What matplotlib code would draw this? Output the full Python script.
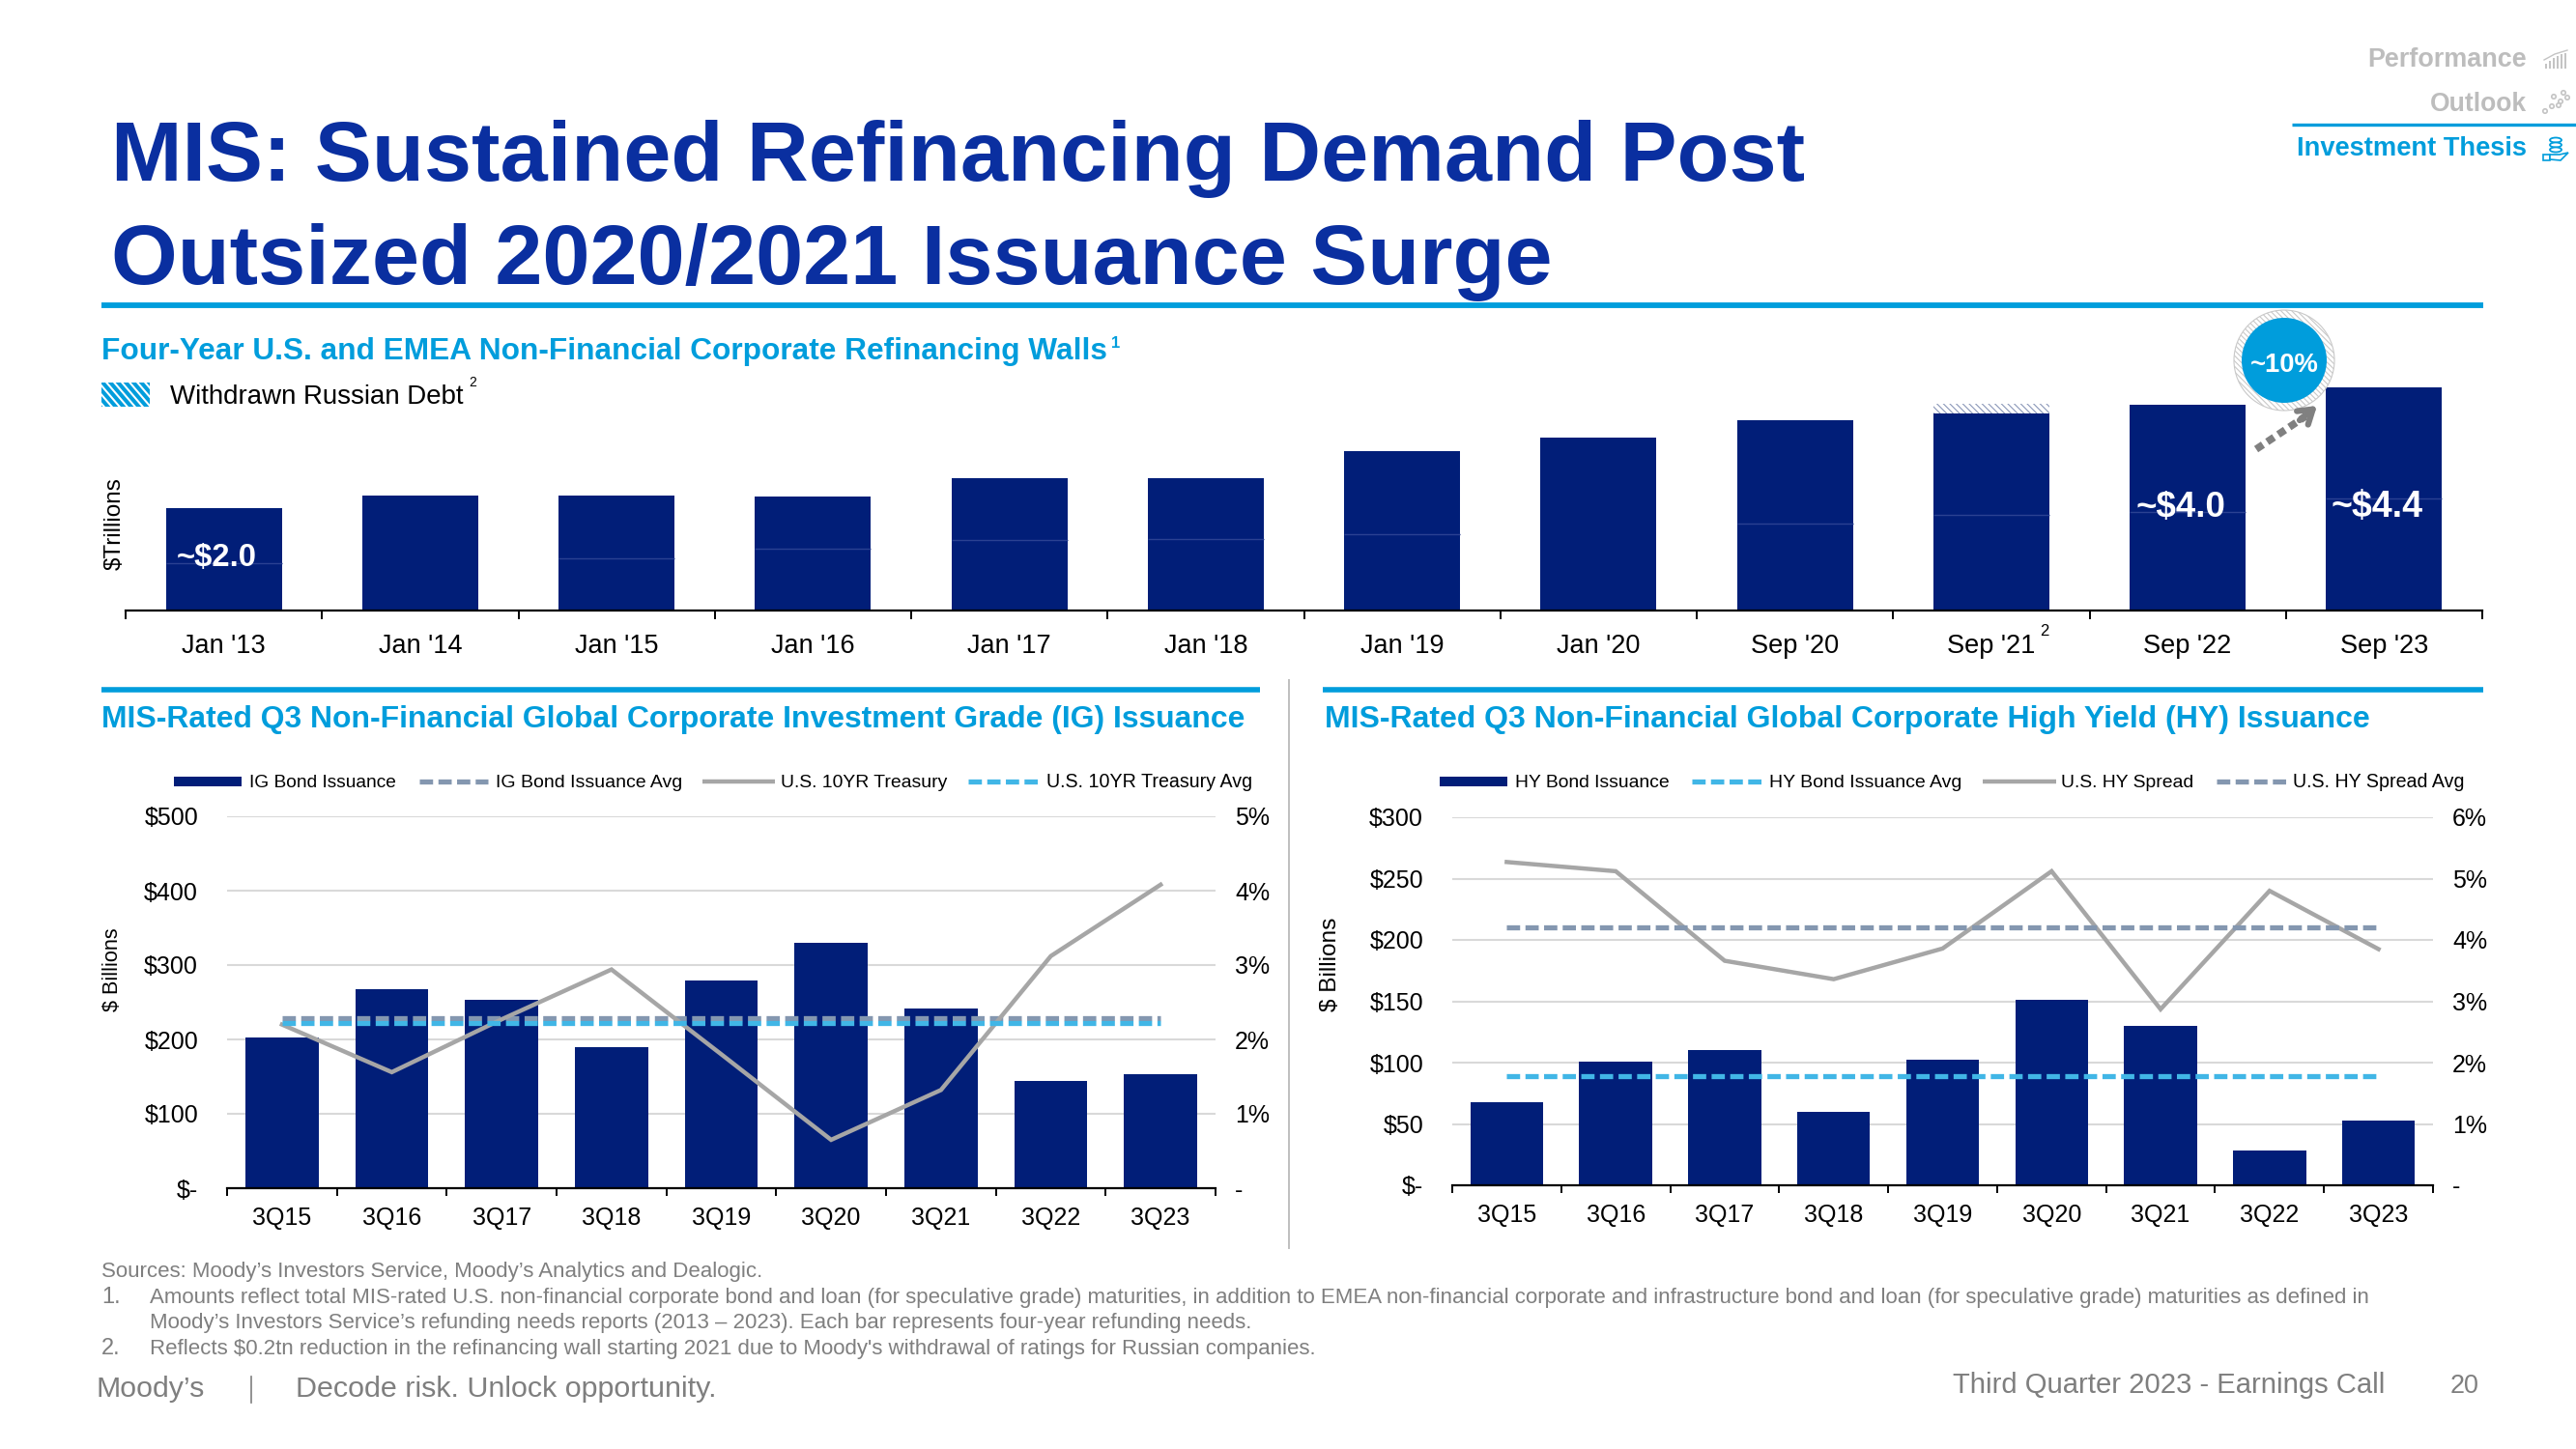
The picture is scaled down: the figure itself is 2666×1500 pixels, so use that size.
import numpy as np
import matplotlib
matplotlib.use('Agg')
import matplotlib.pyplot as plt
from matplotlib.patches import Circle, Rectangle, Ellipse, Polygon

plt.rcParams['font.family'] = ['Liberation Sans', 'DejaVu Sans']
plt.rcParams['hatch.linewidth'] = 0.8

W, H = 2666, 1500
NAVY = '#011E78'
TITLE = '#0A2FA0'
BLUE = '#009DDC'
SKY = '#41B6E6'
STEEL = '#8497B0'
LINE = '#A6A6A6'
GRID = '#D9D9D9'
FOOT = '#7F7F7F'

# refinancing walls, $ trillions
wall_labels = ["Jan '13", "Jan '14", "Jan '15", "Jan '16", "Jan '17", "Jan '18",
               "Jan '19", "Jan '20", "Sep '20", "Sep '21", "Sep '22", "Sep '23"]
wall_total = [2.0, 2.23, 2.23, 2.22, 2.58, 2.58, 3.11, 3.37, 3.71, 3.83, 4.0, 4.34]
wall_seam = [0.92, np.nan, 1.01, 1.2, 1.37, 1.39, 1.48, np.nan, 1.69, 1.86, 1.92, 2.18]
wall_russian = [0, 0, 0, 0, 0, 0, 0, 0, 0, 0.19, 0, 0]

quarters = ['3Q15', '3Q16', '3Q17', '3Q18', '3Q19', '3Q20', '3Q21', '3Q22', '3Q23']

# investment grade
ig_issuance = [202, 267, 253, 189, 279, 330, 241, 144, 153]
ig_avg = 228
treasury = [2.2, 1.56, 2.27, 2.94, 1.8, 0.65, 1.32, 3.12, 4.08]
treasury_avg = 2.22

# high yield
hy_issuance = [68, 101, 110, 60, 102, 151, 130, 28, 52.5]
hy_avg = 89
hy_spread = [5.27, 5.12, 3.66, 3.36, 3.86, 5.12, 2.87, 4.8, 3.85]
hy_spread_avg = 4.21

ig_ticks = [0, 100, 200, 300, 400, 500]
ig_ticklabels = ['$-', '$100', '$200', '$300', '$400', '$500']
ig_rticks = [0, 1, 2, 3, 4, 5]
ig_rticklabels = ['-', '1%', '2%', '3%', '4%', '5%']
hy_ticks = [0, 50, 100, 150, 200, 250, 300]
hy_ticklabels = ['$-', '$50', '$100', '$150', '$200', '$250', '$300']
hy_rticks = [0, 1, 2, 3, 4, 5, 6]
hy_rticklabels = ['-', '1%', '2%', '3%', '4%', '5%', '6%']

DASH = (0, (2.6, 1.05))
DASH_LW = 3.8

fig = plt.figure(figsize=(W / 100, H / 100), dpi=100, facecolor='white')
renderer = fig.canvas.get_renderer()


def add_axes_px(left, right, top, bottom):
    return fig.add_axes([left / W, 1 - bottom / H, (right - left) / W, (bottom - top) / H])


# overlay in pixel coordinates for the slide furniture
bg = fig.add_axes([0, 0, 1, 1], zorder=10)
bg.set_xlim(0, W)
bg.set_ylim(H, 0)
bg.axis('off')
bg.patch.set_alpha(0)


def txt(x, y, s, width=None, size=18, color='black', ha='left', **kw):
    t = bg.text(x, y, s, fontsize=size, color=color, ha=ha, va='baseline', **kw)
    if width is not None:
        # no letter spacing in matplotlib, so scale the size to the slide's text width
        w = t.get_window_extent(renderer).width
        t.set_fontsize(size * width / w)
    return t


def rule(x0, x1, y, color=BLUE, lw=4):
    bg.plot([x0, x1], [y, y], color=color, lw=lw, solid_capstyle='butt')


# header
txt(115, 187, 'MIS: Sustained Refinancing Demand Post', width=1755, size=60, color=TITLE, fontweight='bold')
txt(115, 294, 'Outsized 2020/2021 Issuance Surge', width=1492, size=60, color=TITLE, fontweight='bold')
rule(105, 2570, 316, lw=4.2)

# navigation
txt(2615, 69, 'Performance', width=165, size=20, color='#BDBDBD', ha='right', fontweight='bold')
txt(2615, 115, 'Outlook', width=100, size=20, color='#BDBDBD', ha='right', fontweight='bold')
txt(2615, 161, 'Investment Thesis', width=237, size=20, color=BLUE, ha='right', fontweight='bold')
rule(2372, 2666, 129, lw=2.4)
for dx, top in zip(range(2634, 2656, 4), [66, 63, 60, 58, 56, 55]):
    bg.add_patch(Rectangle((dx, top), 2, 71 - top, color='#C4C4C4', lw=0))
bg.plot([2633, 2644, 2657], [62, 56, 52], color='#C4C4C4', lw=1)
for dx, dy in [(2643, 100), (2653, 96), (2657, 101), (2650, 105), (2641, 110), (2634, 115), (2648, 109)]:
    bg.add_patch(Circle((dx, dy), 2.2, fc='white', ec='#C4C4C4', lw=1.2))
for dy in [145, 150, 155]:
    bg.add_patch(Ellipse((2645, dy), 12, 5, fc='white', ec=BLUE, lw=1.3))
bg.add_patch(Rectangle((2632, 160), 7, 6, fc='white', ec=BLUE, lw=1.2))
bg.add_patch(Polygon([(2639, 160), (2649, 160), (2658, 158), (2650, 166), (2639, 165)], fc='white', ec=BLUE, lw=1.2))

# top chart heading and legend
txt(105, 372, 'Four-Year U.S. and EMEA Non-Financial Corporate Refinancing Walls', width=1040, size=20,
    color=BLUE, fontweight='bold')
txt(1150, 360, '1', size=12, color=BLUE, fontweight='bold')
swatch = Rectangle((105, 396), 50, 25, fc='white', lw=0)
bg.add_patch(swatch)
for sx in range(70, 170, 8):
    stripe, = bg.plot([sx, sx + 30], [391, 426], color=BLUE, lw=2.9, solid_capstyle='butt')
    stripe.set_clip_path(swatch)
txt(176, 418, 'Withdrawn Russian Debt', width=305, size=19)
txt(485, 400, '2', size=10)
txt(125, 542, '$Trillions', size=17.5, rotation=90, rotation_mode='anchor', ha='center')

# top chart
ax = add_axes_px(130, 2569, 366, 632)
x = np.arange(len(wall_labels))
bw = 0.59
ax.bar(x, wall_total, bw, color=NAVY, lw=0, zorder=2)
ax.bar(x, wall_russian, bw, bottom=wall_total, facecolor='white', edgecolor='#8A97B8', lw=0,
       hatch='\\\\\\\\\\', zorder=2)
ax.hlines(wall_seam, x - bw / 2, x + bw / 2, color='#2A4192', lw=1, zorder=3)
ax.set_xlim(-0.5, len(x) - 0.5)
ax.set_ylim(0, 5)
ax.set_yticks([])
for s in ['top', 'left', 'right']:
    ax.spines[s].set_visible(False)
ax.spines['bottom'].set_linewidth(1.6)
ax.set_xticks(x, wall_labels, fontsize=19.5)
ax.tick_params(axis='x', which='major', length=0, pad=17)
ax.set_xticks(np.arange(len(x) + 1) - 0.5, minor=True)
ax.tick_params(axis='x', which='minor', length=6.5, width=1.4)
ax.patch.set_alpha(0)

txt(2111, 658, '2', size=12, ha='left')
txt(183, 586, '~$2.0', width=83, size=26, color='white', fontweight='bold')
txt(2210, 535, '~$4.0', width=93, size=28, color='white', fontweight='bold')
txt(2413, 535, '~$4.4', width=95, size=28, color='white', fontweight='bold')

# growth callout
bg.add_patch(Circle((2364, 373), 52, fc='white', ec='#C9C9C9', lw=0.8, hatch='\\\\\\\\\\\\'))
bg.add_patch(Circle((2364, 373), 44, fc=BLUE, ec='none'))
txt(2364, 385, '~10%', width=71, size=20, color='white', ha='center', fontweight='bold')
bg.plot([2335, 2386], [465, 431], color='#808080', lw=5.5, linestyle=(0, (1.1, 0.7)))
bg.annotate('', xy=(2398, 420), xytext=(2380, 435),
            arrowprops=dict(arrowstyle='->,head_length=1.0,head_width=0.65', color='#808080', lw=4.5,
                            shrinkA=0, shrinkB=0))

# section rules
rule(105, 1304, 714, lw=4)
rule(1369, 2570, 714, lw=4)
bg.plot([1334, 1334], [704, 1292], color='#BFBFBF', lw=1.4)
txt(105, 753, 'MIS-Rated Q3 Non-Financial Global Corporate Investment Grade (IG) Issuance', width=1185, size=20,
    color=BLUE, fontweight='bold')
txt(1371, 753, 'MIS-Rated Q3 Non-Financial Global Corporate High Yield (HY) Issuance', width=1081, size=20,
    color=BLUE, fontweight='bold')


def issuance_panel(left, right, top, bottom, values, avg, ymax, yticks, ylabels,
                   rate, rate_avg, rmax, rticks, rlabels, avg_color, rate_avg_color):
    a = add_axes_px(left, right, top, bottom)
    pos = np.arange(len(quarters))
    a.bar(pos, values, 0.668, color=NAVY, lw=0, zorder=2)
    a.plot(pos[[0, -1]], [avg, avg], color=avg_color, lw=DASH_LW, linestyle=DASH, zorder=3)
    a.set_xlim(-0.5, len(pos) - 0.5)
    a.set_ylim(0, ymax)
    a.set_yticks(yticks, ylabels, fontsize=18)
    a.grid(axis='y', color=GRID, lw=1.5, zorder=0)
    a.set_axisbelow(True)
    for s in ['top', 'left', 'right']:
        a.spines[s].set_visible(False)
    a.spines['bottom'].set_linewidth(1.6)
    a.tick_params(axis='y', length=0, pad=21.5)
    a.set_xticks(pos, quarters, fontsize=18)
    a.tick_params(axis='x', which='major', length=0, pad=14)
    a.set_xticks(np.arange(len(pos) + 1) - 0.5, minor=True)
    a.tick_params(axis='x', which='minor', length=5.5, width=1.4)
    a.patch.set_alpha(0)

    r = a.twinx()
    r.plot(pos, rate, color=LINE, lw=3.2, zorder=3, solid_joinstyle='miter')
    r.plot(pos[[0, -1]], [rate_avg, rate_avg], color=rate_avg_color, lw=DASH_LW, linestyle=DASH, zorder=4)
    r.set_ylim(0, rmax)
    r.set_yticks(rticks, rlabels, fontsize=18)
    r.tick_params(axis='y', length=0, pad=14.5)
    for s in r.spines.values():
        s.set_visible(False)
    r.patch.set_alpha(0)


issuance_panel(235, 1258, 845, 1230, ig_issuance, ig_avg, 500, ig_ticks, ig_ticklabels,
               treasury, treasury_avg, 5, ig_rticks, ig_rticklabels, STEEL, SKY)
issuance_panel(1503, 2518, 846, 1227, hy_issuance, hy_avg, 300, hy_ticks, hy_ticklabels,
               hy_spread, hy_spread_avg, 6, hy_rticks, hy_rticklabels, SKY, STEEL)

txt(122, 1004, '$ Billions', size=15.6, rotation=90, rotation_mode='anchor', ha='center')
txt(1383, 998, '$ Billions', size=17.6, rotation=90, rotation_mode='anchor', ha='center')


def legend_row(y, items):
    for kind, x0, x1, color, label, tx, tw in items:
        if kind == 'bar':
            bg.add_patch(Rectangle((x0, y - 5), x1 - x0, 10, color=color, lw=0))
        elif kind == 'line':
            bg.plot([x0, x1], [y, y], color=color, lw=3.2, solid_capstyle='butt')
        else:
            bg.plot([x0, x1], [y, y], color=color, lw=DASH_LW, linestyle=DASH)
        txt(tx, y + 6, label, width=tw, size=13)


legend_row(809, [
    ('bar', 180, 250, NAVY, 'IG Bond Issuance', 258, 152),
    ('dash', 434, 505, STEEL, 'IG Bond Issuance Avg', 513, 192),
    ('line', 727, 802, LINE, 'U.S. 10YR Treasury', 808, 172),
    ('dash', 1002, 1075, SKY, 'U.S. 10YR Treasury Avg', 1083, 211),
])
legend_row(809, [
    ('bar', 1490, 1560, NAVY, 'HY Bond Issuance', 1568, 159),
    ('dash', 1751, 1823, SKY, 'HY Bond Issuance Avg', 1831, 198),
    ('line', 2052, 2128, LINE, 'U.S. HY Spread', 2133, 137),
    ('dash', 2294, 2367, STEEL, 'U.S. HY Spread Avg', 2373, 176),
])

# footnotes
txt(105, 1322, "Sources: Moody\u2019s Investors Service, Moody\u2019s Analytics and Dealogic.", width=688, size=15, color=FOOT)
txt(105, 1349, '1.', size=17, color=FOOT)
txt(155, 1349, 'Amounts reflect total MIS-rated U.S. non-financial corporate bond and loan (for speculative grade) '
    'maturities, in addition to EMEA non-financial corporate and infrastructure bond and loan (for speculative grade) '
    'maturities as defined in', width=2305, size=15, color=FOOT)
txt(155, 1375, "Moody\u2019s Investors Service\u2019s refunding needs reports (2013 \u2013 2023). Each bar represents "
    "four-year refunding needs.", width=1145, size=15, color=FOOT)
txt(105, 1402, '2.', size=17, color=FOOT)
txt(155, 1402, "Reflects $0.2tn reduction in the refinancing wall starting 2021 due to Moody's withdrawal of ratings "
    "for Russian companies.", width=1208, size=15, color=FOOT)

txt(100, 1446, 'Moody\u2019s', width=112, size=23, color=FOOT)
bg.plot([260, 260], [1425, 1452], color=FOOT, lw=1.2)
txt(306, 1446, 'Decode risk. Unlock opportunity.', width=437, size=23, color=FOOT)
txt(2021, 1442, 'Third Quarter 2023 - Earnings Call', width=446, size=20, color=FOOT)
txt(2536, 1442, '20', width=30, size=20, color=FOOT)

fig.savefig('out.png', dpi=100, facecolor='white')
